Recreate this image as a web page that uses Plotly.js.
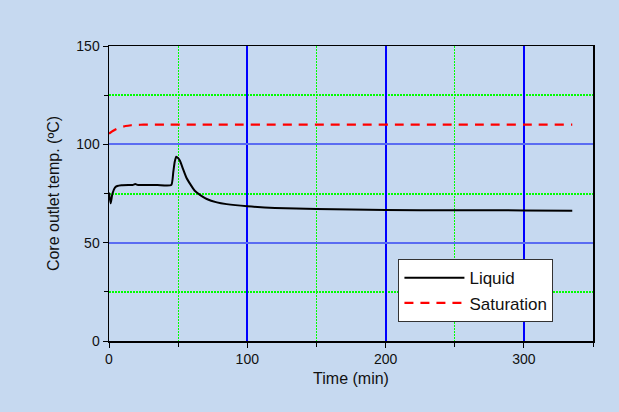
<!DOCTYPE html>
<html>
<head>
<meta charset="utf-8">
<script src="https://cdn.plot.ly/plotly-3.0.1.min.js"></script>
<style>html,body{margin:0;padding:0;background:#c6d9f0;}#chart{width:619px;height:412px;}</style>
</head>
<body>
<div id="chart"></div>
<script>
const liquidTime = [0, 1.2, 2.5, 4.3, 6, 9, 14, 17, 19, 21, 25, 35, 45, 46.5, 47.5, 48.6, 50, 51.4, 53.5, 56, 59, 62, 66, 70.7, 78, 85, 100, 120, 150, 200, 250, 300, 335];
const liquidTemp = [75.5, 70, 75, 78, 78.8, 79.2, 79.3, 79.3, 79.8, 79.3, 79.3, 79.3, 79.3, 86, 91, 93.7, 93, 91.5, 87.5, 83, 79.5, 76.4, 74.2, 72.2, 70.5, 69.6, 68.5, 67.6, 67.1, 66.6, 66.5, 66.4, 66.2];
const satTime = [0, 2, 5, 8, 12, 16, 20, 25, 335];
const satTemp = [105.4, 106.5, 107.7, 108.6, 109.3, 109.7, 109.9, 110, 110];
const seriesNames = ["Liquid", "Saturation"];

const traces = [
  {x: liquidTime, y: liquidTemp, name: seriesNames[0], mode: 'lines',
   line: {color: '#000000', width: 2, shape: 'spline', smoothing: 0.5}},
  {x: satTime, y: satTemp, name: seriesNames[1], mode: 'lines',
   line: {color: '#ff0000', width: 2.2, dash: '9px,7px', shape: 'spline', smoothing: 0.5}}
];

const layout = {
  width: 619, height: 412,
  paper_bgcolor: '#c6d9f0', plot_bgcolor: '#c6d9f0',
  margin: {l: 109, r: 26, t: 46, b: 71},
  font: {family: 'Liberation Sans, Arial, sans-serif', color: '#111', size: 14},
  showlegend: true,
  legend: {x: 0.598, y: 0.277, xanchor: 'left', yanchor: 'top',
    bgcolor: '#ffffff', bordercolor: '#333', borderwidth: 1,
    font: {size: 17}, itemwidth: 60, tracegroupgap: 0},
  xaxis: {range: [0, 350], dtick: 100, tick0: 0, showgrid: true, gridcolor: '#0000ff', gridwidth: 2,
    zeroline: false, showline: true, linecolor: '#000', linewidth: 1.5, mirror: true,
    ticks: 'outside', ticklen: 5, tickcolor: '#000', tickfont: {size: 14},
    minor: {dtick: 50, showgrid: true, gridcolor: '#00ff00', griddash: '2px,1px', gridwidth: 1.2, ticks: 'outside', ticklen: 4, tickcolor: '#000'},
    title: {text: 'Time (min)', font: {size: 16}, standoff: 6}},
  yaxis: {range: [0, 150], dtick: 50, tick0: 0, showgrid: true, gridcolor: '#5a6cf2', gridwidth: 2,
    zeroline: false, showline: true, linecolor: '#000', linewidth: 1.5, mirror: true,
    ticks: 'outside', ticklen: 5, tickcolor: '#000', tickfont: {size: 14},
    minor: {dtick: 25, showgrid: true, gridcolor: '#00ff00', griddash: '2px,1px', gridwidth: 2, ticks: 'outside', ticklen: 4, tickcolor: '#000'},
    title: {text: 'Core outlet temp. (ºC)', font: {size: 16}, standoff: 12}}
};

Plotly.newPlot('chart', traces, layout, {displayModeBar: false, staticPlot: true});
</script>
</body>
</html>
